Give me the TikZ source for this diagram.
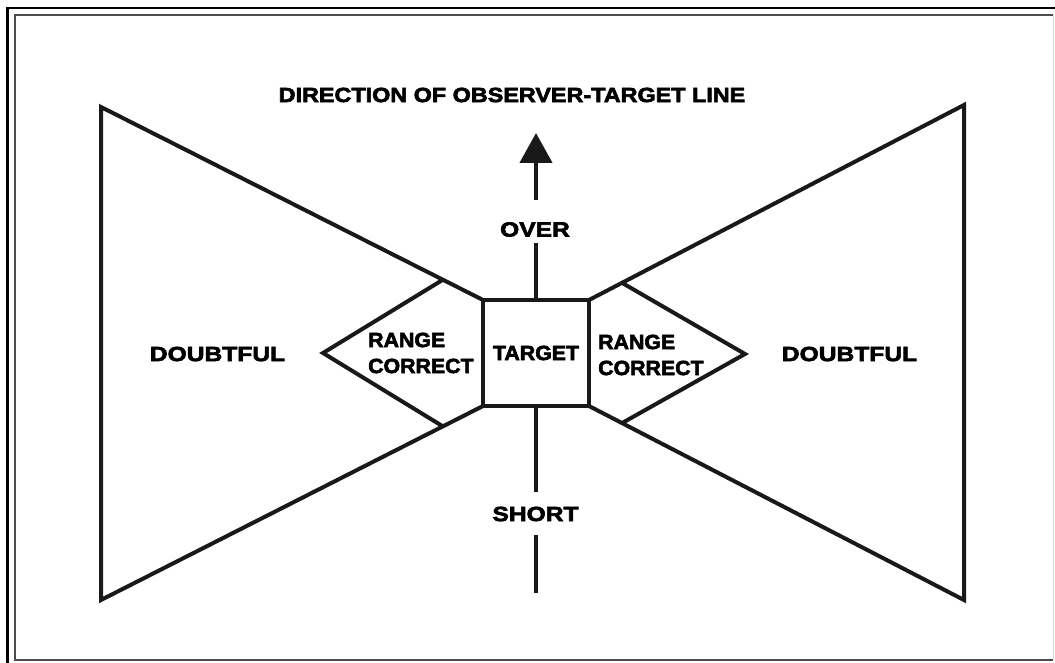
\documentclass[tikz,border=0pt]{standalone}
\usepackage{fontspec}
\usetikzlibrary{arrows.meta,calc}
\newfontfamily\fwide{Liberation Sans}[FakeStretch=1.2,FakeBold=3]
\newfontfamily\fnarrow{Liberation Sans}[FakeStretch=1.04,FakeBold=3]
\newfontfamily\ftitle{Liberation Sans}[FakeStretch=1.14,FakeBold=3]
\begin{document}
\begin{tikzpicture}[x=1pt,y=-1pt,line join=miter,
  thickline/.style={line width=4pt,black!90},
  lbl/.style={font=\fwide\bfseries\fontsize{20.5}{26}\selectfont,inner sep=0pt},
  nlbl/.style={font=\fnarrow\bfseries\fontsize{20.5}{26}\selectfont,inner sep=0pt,align=left},
  tlbl/.style={font=\ftitle\bfseries\fontsize{20.5}{26}\selectfont,inner sep=0pt},
  box/.style={draw=black!90,line width=4pt,minimum width=106pt,minimum height=106pt,outer sep=0pt,inner sep=0pt}]
\useasboundingbox (0,0) rectangle (1055,663);
% frame
\draw[line width=2.7pt] (7.3,663) -- (7.3,8) -- (1055,8);
\draw[line width=1.5pt,black!70] (1053,15) -- (15,15) -- (15,660) -- (1053,660);
\draw[line width=1pt,black!15] (1053.5,15) -- (1053.5,660);
% target
\node[box,nlbl] (T) at (536,353) {TARGET};
% bow-tie corners
\coordinate (LT) at (101,107);
\coordinate (LB) at (101,600);
\coordinate (RT) at (964,105);
\coordinate (RB) at (964,600);
\draw[thickline] (T.north west) -- (LT) -- (LB) -- (T.south west);
\draw[thickline] (T.north east) -- (RT) -- (RB) -- (T.south east);
% range correct diamonds
\coordinate (DLt) at ($(LT)!0.895!(T.north west)$);
\coordinate (DLb) at ($(LB)!0.895!(T.south west)$);
\coordinate (DLm) at (323,353);
\coordinate (DRt) at ($(RT)!0.912!(T.north east)$);
\coordinate (DRb) at ($(RB)!0.912!(T.south east)$);
\coordinate (DRm) at (745,354);
\draw[thickline] (DLt) -- (DLm) -- (DLb);
\draw[thickline] (DRt) -- (DRm) -- (DRb);
% labels
\node[tlbl] (title) at (512,95) {DIRECTION OF OBSERVER-TARGET LINE};
\node[lbl] (over) at (535,229.5) {OVER};
\node[lbl] (short) at (535.5,514) {SHORT};
\node[lbl] (dl) at (217.5,354) {DOUBTFUL};
\node[lbl] (dr) at (849.5,354) {DOUBTFUL};
\node[nlbl,anchor=west] (rcl) at (368,353) {RANGE\\CORRECT};
\node[nlbl,anchor=west] (rcr) at (598,355) {RANGE\\CORRECT};
% observer-target line
\coordinate (a0) at (536,200);
\coordinate (a1) at (536,133);
\coordinate (o1) at (536,243);
\coordinate (s1) at (536,492);
\coordinate (s2) at (536,535);
\coordinate (s3) at (536,593);
\draw[thickline,line width=4.5pt,-{Triangle[length=30pt,width=32pt]}] (a0) -- (a1);
\draw[thickline,line width=4.5pt] (T.north) -- (o1);
\draw[thickline,line width=4.5pt] (T.south) -- (s1);
\draw[thickline,line width=4.5pt] (s2) -- (s3);
\end{tikzpicture}
\end{document}
